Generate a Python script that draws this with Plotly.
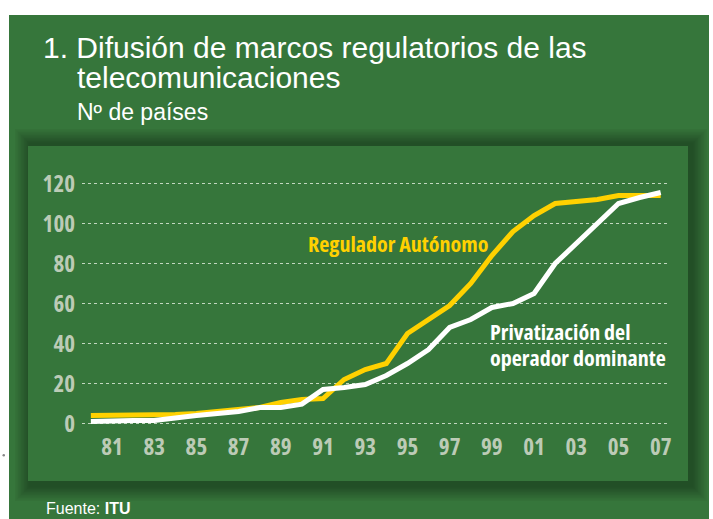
import plotly.graph_objects as go

W, H = 713, 519

years = list(range(1980, 2008))
regulador = [4, 4, 4, 4, 4.5, 5, 6, 7, 8, 10.5, 12, 12.5, 22, 27, 30, 45, 52, 59,
             70, 84, 96, 104, 110, 111, 112, 114, 114, 114]
privatizacion = [1, 1.5, 1.5, 1.5, 3, 4, 5, 6, 8, 8, 9.7, 17, 18, 19.5, 24, 30, 37, 48,
                 52, 58, 60, 65, 80, 90, 100, 110, 113, 115.5]

x_tickvals = list(range(1981, 2008, 2))
x_ticktext = ["81", "83", "85", "87", "89", "91", "93", "95", "97", "99", "01", "03", "05", "07"]
y_tickvals = [0, 20, 40, 60, 80, 100, 120]

GREEN = "#36763b"
YELLOW = "#ffd100"
TICK = "#bccbb6"
COND = "Open Sans, sans-serif"
SANS = "Liberation Sans, Arial, Helvetica, sans-serif"


def px(x):
    return x / W


def py(y):
    return 1 - y / H


fig = go.Figure()
fig.add_trace(go.Scatter(x=years, y=regulador, mode="lines",
                         line=dict(color=YELLOW, width=5), name="Regulador Autónomo"))
fig.add_trace(go.Scatter(x=years, y=privatizacion, mode="lines",
                         line=dict(color="white", width=5), name="Privatización"))

shapes = []
shapes.append(dict(type="rect", xref="paper", yref="paper", x0=px(9), x1=px(709),
                   y0=py(519), y1=py(15), fillcolor=GREEN, line=dict(width=0), layer="below"))
for i in range(10):
    e = 1.5 * (i + 1)
    shapes.append(dict(type="rect", xref="paper", yref="paper",
                       x0=px(28 + 2 - e), x1=px(688 + 4 + e),
                       y0=py(481 + 5 + e), y1=py(146 - 2 - e),
                       fillcolor="rgba(0,0,0,0.035)", line=dict(width=0), layer="below"))
shapes.append(dict(type="rect", xref="paper", yref="paper", x0=px(28), x1=px(688),
                   y0=py(481), y1=py(146), fillcolor=GREEN, line=dict(width=0), layer="below"))
shapes.append(dict(type="circle", xref="paper", yref="paper", x0=px(2.5), x1=px(5),
                   y0=py(456.5), y1=py(454), fillcolor="#888888", line=dict(width=0), layer="below"))

annotations = [
    dict(text="1. Difusión de marcos regulatorios de las", x=px(41), y=py(47),
         font=dict(family=SANS, size=30, color="white")),
    dict(text="telecomunicaciones", x=px(75), y=py(77),
         font=dict(family=SANS, size=30, color="white")),
    dict(text="Nº de países", x=px(75), y=py(112),
         font=dict(family=SANS, size=23, color="white")),
    dict(text="Regulador Autónomo", x=px(306), y=py(243),
         font=dict(family=COND, size=22, color=YELLOW, weight="bold")),
    dict(text="Privatización del", x=px(488), y=py(331),
         font=dict(family=COND, size=22, color="white", weight="bold")),
    dict(text="operador dominante", x=px(488), y=py(357),
         font=dict(family=COND, size=22, color="white", weight="bold")),
    dict(text="Fuente: <b>ITU</b>", x=px(44), y=py(508),
         font=dict(family=SANS, size=16, color="white")),
]
for a in annotations:
    a.update(xref="paper", yref="paper", xanchor="left", yanchor="middle",
             align="left", showarrow=False)

y_lo, y_hi = -3, 123
y_bot_px = 423.5 + 2 * (0 - y_lo)
y_top_px = 423.5 - 2 * y_hi

fig.update_layout(
    width=W, height=H,
    margin=dict(l=0, r=0, t=0, b=0, autoexpand=False),
    paper_bgcolor="white",
    plot_bgcolor="rgba(0,0,0,0)",
    showlegend=False,
    shapes=shapes,
    annotations=annotations,
    xaxis=dict(domain=[px(82), px(670)], range=[1979.58, 2007.44],
               tickvals=x_tickvals, ticktext=x_ticktext, showgrid=False,
               zeroline=False, showline=False, ticks="", automargin=False,
               tickfont=dict(family=COND, size=23, color=TICK, weight="bold"),
               ticklabelstandoff=1, fixedrange=True),
    yaxis=dict(domain=[py(y_bot_px), py(y_top_px)], range=[y_lo, y_hi],
               tickvals=y_tickvals, showgrid=True, gridcolor="rgba(230,240,225,0.8)",
               griddash="dot", gridwidth=1, zeroline=False, showline=False, ticks="",
               automargin=False,
               tickfont=dict(family=COND, size=23, color=TICK, weight="bold"),
               ticklabelstandoff=6, fixedrange=True),
)

post = """
document.body.style.margin='0';
document.body.style.overflow='hidden';
var st=document.createElement('style');
st.textContent='.xtick text,.ytick text,.annotation[data-index="3"] text,.annotation[data-index="4"] text,.annotation[data-index="5"] text{font-stretch:condensed !important;}';
document.head.appendChild(st);
var gd=document.getElementById('{plot_id}');
Plotly.newPlot(gd, gd.data, gd.layout, {staticPlot:true});
"""

fig.write_html("out.html", post_script=post)
